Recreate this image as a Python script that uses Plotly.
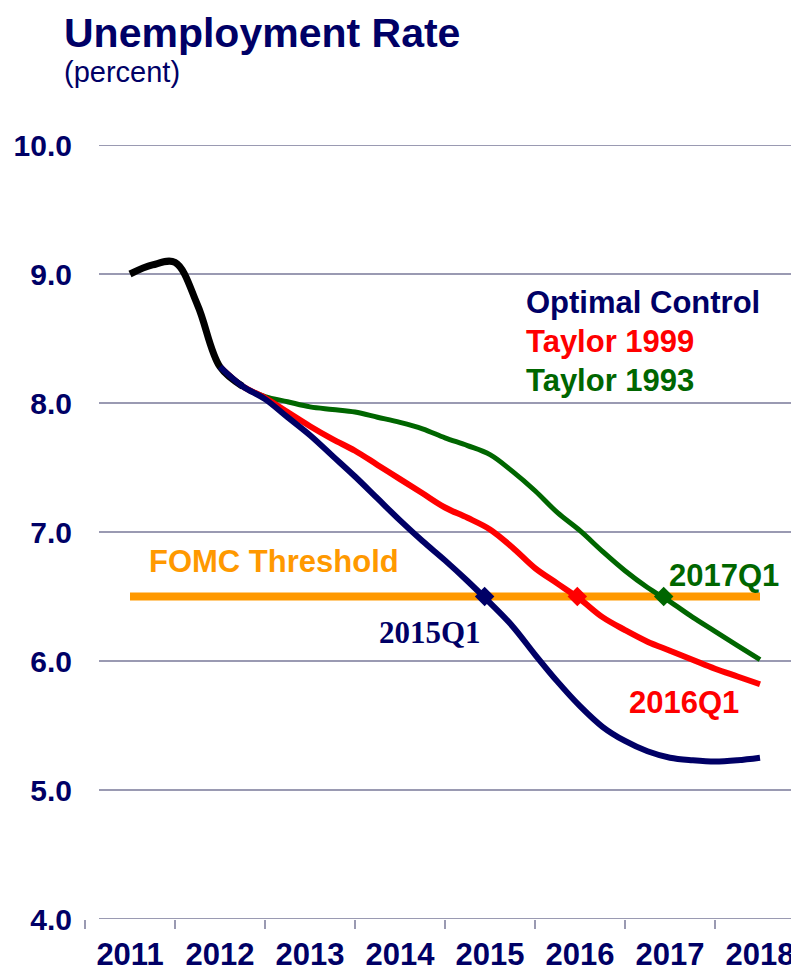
import plotly.graph_objs as go

# quarterly time axis (year + fraction)
hist_t = [2011.0, 2011.25, 2011.5, 2011.75, 2012.0, 2012.25]
hist_u = [9.00, 9.07, 9.09, 8.76, 8.28, 8.13]

proj_t = [2012.0, 2012.25, 2012.5, 2012.75, 2013.0, 2013.25, 2013.5, 2013.75,
          2014.0, 2014.25, 2014.5, 2014.75, 2015.0, 2015.25, 2015.5, 2015.75,
          2016.0, 2016.25, 2016.5, 2016.75, 2017.0, 2017.25, 2017.5, 2017.75, 2018.0]
optimal = [8.28, 8.13, 8.03, 7.89, 7.75, 7.59, 7.43, 7.26,
           7.09, 6.93, 6.78, 6.62, 6.45, 6.27, 6.05, 5.84,
           5.65, 5.49, 5.38, 5.30, 5.25, 5.23, 5.22, 5.23, 5.25]
taylor99 = [8.28, 8.13, 8.04, 7.93, 7.82, 7.72, 7.63, 7.52,
            7.41, 7.30, 7.19, 7.11, 7.02, 6.88, 6.72, 6.60,
            6.48, 6.34, 6.24, 6.15, 6.08, 6.01, 5.94, 5.88, 5.82]
taylor93 = [8.28, 8.13, 8.05, 8.01, 7.97, 7.95, 7.93, 7.89,
            7.85, 7.80, 7.73, 7.67, 7.60, 7.47, 7.32, 7.15,
            7.01, 6.85, 6.70, 6.57, 6.46, 6.34, 6.23, 6.12, 6.01]

threshold_t = [2011.0, 2018.0]
threshold_u = [6.5, 6.5]

# where each path crosses the threshold
cross_t = [2014.94, 2015.97, 2016.93]
cross_u = [6.5, 6.5, 6.5]

years = [2011, 2012, 2013, 2014, 2015, 2016, 2017, 2018]
y_ticks = [4, 5, 6, 7, 8, 9, 10]

NAVY = '#000066'
RED = '#FF0000'
GREEN = '#006600'
ORANGE = '#FF9900'
GRID = '#9a9ab2'
FONT = 'Liberation Sans, Arial, sans-serif'

# page has an 8px body margin, so work in reference pixels minus 8
OFF = 8
W, H = 799 - OFF, 975 - OFF
L, R, T, B = 85 - OFF, 796 - OFF, 145 - OFF, 921 - OFF


def px(x, y):
    # reference pixel -> paper coords
    return (x - OFF - L) / (R - L), (B - (y - OFF)) / (B - T)


fig = go.Figure()

fig.add_trace(go.Scatter(x=threshold_t, y=threshold_u, mode='lines',
                         line=dict(color=ORANGE, width=8), hoverinfo='skip'))
fig.add_trace(go.Scatter(x=proj_t, y=taylor93, mode='lines', line_shape='spline',
                         line=dict(color=GREEN, width=5)))
fig.add_trace(go.Scatter(x=proj_t, y=taylor99, mode='lines', line_shape='spline',
                         line=dict(color=RED, width=6)))
fig.add_trace(go.Scatter(x=hist_t, y=hist_u, mode='lines', line_shape='spline',
                         line=dict(color='black', width=7)))
fig.add_trace(go.Scatter(x=proj_t, y=optimal, mode='lines', line_shape='spline',
                         line=dict(color=NAVY, width=6)))
fig.add_trace(go.Scatter(x=cross_t, y=cross_u, mode='markers',
                         marker=dict(symbol='diamond', size=15, color=[NAVY, RED, GREEN])))

# gridlines (start a bit right of the plot edge like the original)
for v in y_ticks:
    fig.add_shape(type='line', xref='paper', yref='y', x0=px(99, 0)[0], x1=1,
                  y0=v, y1=v, line=dict(color=GRID, width=2), layer='below')

# title sits in a box whose top is at the page edge
tx, ty = px(62, 8)
fig.add_annotation(text='<b>Unemployment Rate</b>', x=tx, y=ty, xref='paper', yref='paper',
                   xanchor='left', yanchor='top', showarrow=False,
                   font=dict(color=NAVY, size=41, family=FONT))

labels = [
    ('(percent)', 62, 72, NAVY, 29, FONT),
    ('<b>Optimal Control</b>', 524, 303, NAVY, 31, FONT),
    ('<b>Taylor 1999</b>', 524, 342, RED, 31, FONT),
    ('<b>Taylor 1993</b>', 524, 381, GREEN, 31, FONT),
    ('<b>FOMC Threshold</b>', 147, 563, ORANGE, 31, FONT),
    ('<b>2015Q1</b>', 377, 634, NAVY, 31, 'Liberation Serif, Times New Roman, serif'),
    ('<b>2016Q1</b>', 627, 704, RED, 31, FONT),
    ('<b>2017Q1</b>', 667, 577, GREEN, 31, FONT),
]
for text, x, y, color, size, family in labels:
    xp, yp = px(x, y)
    fig.add_annotation(text=text, x=xp, y=yp, xref='paper', yref='paper',
                       xanchor='left', yanchor='middle', showarrow=False,
                       font=dict(color=color, size=size, family=family))

fig.update_layout(
    width=W, height=H,
    margin=dict(l=L, r=W - R, t=T, b=H - B),
    paper_bgcolor='white', plot_bgcolor='white',
    showlegend=False,
    font=dict(family=FONT, color=NAVY),
    xaxis=dict(range=[2010.5, 2018.4], tickvals=years,
               ticktext=[f'<b>{y}</b>' for y in years],
               ticks='', showgrid=False, zeroline=False, showline=False,
               ticklabelstandoff=14, tickfont=dict(size=31, color=NAVY),
               minor=dict(ticks='outside', tick0=2010.5, dtick=1, ticklen=9,
                          tickwidth=2, tickcolor=GRID, showgrid=False)),
    yaxis=dict(range=[4, 10], tickvals=y_ticks,
               ticktext=[f'<b>{v:.1f}</b>' for v in y_ticks],
               showgrid=False, zeroline=False, showline=False,
               ticklabelstandoff=12, tickfont=dict(size=30, color=NAVY)),
)

fig.write_html('out.html')
